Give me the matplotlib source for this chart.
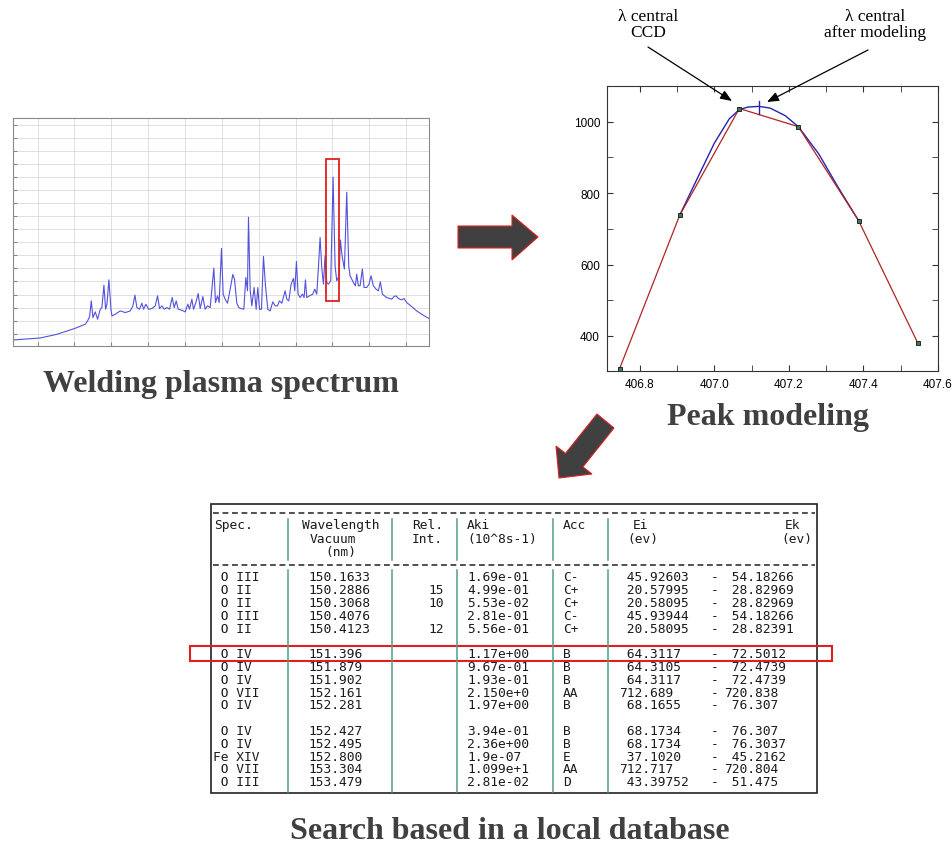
import numpy as np
import matplotlib.pyplot as plt
from matplotlib.patches import Rectangle, Polygon
from matplotlib.ticker import MultipleLocator, NullFormatter

# --- spectrum trace (arbitrary units) ---
spec_x = [38, 120, 170, 222, 255, 262, 268, 273, 278, 285, 292, 300, 305, 311, 316, 320, 326, 332,
          335, 345, 360, 375, 390, 398, 404, 410, 418, 425, 430, 437, 445, 455, 465, 472, 478, 485,
          492, 500, 508, 516, 522, 528, 534, 545, 555, 563, 568, 575, 580, 587, 594, 600, 608, 615,
          622, 630, 641, 646, 652, 657, 664, 669, 675, 682, 690, 698, 703, 710, 716, 722, 731, 737,
          742, 745, 750, 755, 762, 768, 773, 778, 784, 790, 796, 803, 810, 818, 825, 832, 838, 845,
          855, 860, 866, 873, 880, 884, 889, 894, 900, 907, 912, 916, 920, 928, 938, 944, 950, 956,
          960, 965, 970, 975, 980, 985, 992, 999, 1005, 1010, 1017, 1021, 1026, 1033, 1040, 1046,
          1050, 1060, 1066, 1070, 1075, 1080, 1087, 1092, 1100, 1107, 1113, 1120, 1128, 1135, 1141,
          1147, 1160, 1175, 1182, 1188, 1195, 1205, 1212, 1220, 1235, 1250, 1265, 1287]
spec_y = [18, 24, 35, 52, 65, 75, 88, 135, 85, 102, 80, 110, 115, 182, 110, 125, 198, 110,
          90, 95, 105, 100, 105, 120, 152, 115, 110, 128, 110, 125, 110, 112, 120, 150, 112, 120,
          110, 115, 110, 145, 115, 135, 110, 107, 102, 125, 110, 140, 110, 130, 157, 112, 148, 110,
          120, 115, 233, 130, 150, 130, 292, 155, 140, 128, 170, 214, 200, 128, 115, 112, 110, 205,
          165, 385, 170, 120, 175, 110, 175, 110, 110, 268, 180, 110, 105, 132, 120, 120, 135, 128,
          165, 140, 135, 185, 202, 165, 253, 155, 145, 155, 145, 198, 145, 150, 155, 170, 155, 252,
          325, 235, 185, 270, 190, 185, 195, 505, 240, 195, 210, 317, 270, 230, 460, 240,
          210, 190, 180, 215, 180, 180, 230, 175, 175, 185, 210, 180, 170, 165, 192,
          155, 145, 140, 148, 150, 142, 138, 142, 130, 118, 105, 95, 82]
# highlighted line in the spectrum
box_x = [977, 1016]
box_y = [135, 560]

# --- peak modeling ---
pix_wl = [406.746, 406.907, 407.067, 407.2255, 407.387, 407.5455]
pix_int = [309, 738, 1037, 986, 723, 381]
fit_wl = [406.907, 406.95, 407.0, 407.04, 407.067, 407.09, 407.12, 407.15, 407.19,
          407.2255, 407.28, 407.33, 407.387]
fit_int = [738, 832, 940, 1008, 1034, 1041, 1043, 1038, 1017, 986, 910, 820, 723]
fit_center = 407.12
fit_center_span = [1021, 1059]

# --- database table ---
elem = ['O', 'O', 'O', 'O', 'O', 'O', 'O', 'O', 'O', 'O', 'O', 'O', 'Fe', 'O', 'O']
ion = ['III', 'II', 'II', 'III', 'II', 'IV', 'IV', 'IV', 'VII', 'IV', 'IV', 'IV', 'XIV', 'VII', 'III']
wavelength = ['150.1633', '150.2886', '150.3068', '150.4076', '150.4123',
              '151.396', '151.879', '151.902', '152.161', '152.281',
              '152.427', '152.495', '152.800', '153.304', '153.479']
rel_int = ['', '15', '10', '', '12', '', '', '', '', '', '', '', '', '', '']
aki = ['1.69e-01', '4.99e-01', '5.53e-02', '2.81e-01', '5.56e-01',
       '1.17e+00', '9.67e-01', '1.93e-01', '2.150e+0', '1.97e+00',
       '3.94e-01', '2.36e+00', '1.9e-07', '1.099e+1', '2.81e-02']
acc = ['C-', 'C+', 'C+', 'C-', 'C+', 'B', 'B', 'B', 'AA', 'B', 'B', 'B', 'E', 'AA', 'D']
ei = ['45.92603', '20.57995', '20.58095', '45.93944', '20.58095',
      '64.3117', '64.3105', '64.3117', '712.689', '68.1655',
      '68.1734', '68.1734', '37.1020', '712.717', '43.39752']
ek = ['54.18266', '28.82969', '28.82969', '54.18266', '28.82391',
      '72.5012', '72.4739', '72.4739', '720.838', '76.307',
      '76.307', '76.3037', '45.2162', '720.804', '51.475']
highlight_row = 5

W, H = 953, 845
fig = plt.figure(figsize=(W / 100, H / 100), dpi=100, facecolor='white')


def px_box(left, top, right, bottom):
    return [left / W, 1 - bottom / H, (right - left) / W, (bottom - top) / H]


# spectrum panel
ax1 = fig.add_axes(px_box(13, 119, 429, 347))
ax1.plot(spec_x, spec_y, color='#5252dc', lw=0.8)
ax1.add_patch(Rectangle((box_x[0], box_y[0]), box_x[1] - box_x[0], box_y[1] - box_y[0],
                        fill=False, edgecolor='#e02020', lw=1.3, zorder=5))
ax1.set_xlim(38, 1287)
ax1.set_ylim(0, 682)
ax1.xaxis.set_major_locator(MultipleLocator(110.6, offset=112))
ax1.yaxis.set_major_locator(MultipleLocator(39, offset=37))
ax1.xaxis.set_major_formatter(NullFormatter())
ax1.yaxis.set_major_formatter(NullFormatter())
ax1.grid(True, color='#dadada', lw=0.6)
ax1.tick_params(direction='in', length=3, color='#888888')
for sp in ax1.spines.values():
    sp.set_color('#8a8a8a')
    sp.set_linewidth(0.8)

# peak modeling panel
ax2 = fig.add_axes(px_box(607, 87, 938, 372))
ax2.plot(fit_wl, fit_int, color='#2424b0', lw=1.0)
ax2.plot(pix_wl, pix_int, color='#b02424', lw=0.9)
ax2.plot(pix_wl, pix_int, ls='none', marker='s', ms=3.0, mfc='#3b7a5a', mec='#111111', mew=0.6)
ax2.plot([fit_center, fit_center], fit_center_span, color='#2424b0', lw=1.0)
ax2.set_xlim(406.712, 407.6)
ax2.set_ylim(302, 1100)
ax2.xaxis.set_major_locator(MultipleLocator(0.2))
ax2.xaxis.set_minor_locator(MultipleLocator(0.1))
ax2.yaxis.set_major_locator(MultipleLocator(200))
ax2.yaxis.set_minor_locator(MultipleLocator(100))
ax2.xaxis.set_major_formatter(plt.FormatStrFormatter('%.1f'))
ax2.tick_params(which='both', direction='in', top=True, right=True, color='#333333')
ax2.tick_params(which='major', length=4, labelsize=8.5, pad=5)
ax2.tick_params(which='minor', length=4)
for lab in ax2.get_xticklabels() + ax2.get_yticklabels():
    lab.set_family('Liberation Sans')
for sp in ax2.spines.values():
    sp.set_color('#333333')
    sp.set_linewidth(0.8)

# overlay in pixel coordinates for titles, arrows and the table
ov = fig.add_axes([0, 0, 1, 1], facecolor='none')
ov.set_xlim(0, W)
ov.set_ylim(H, 0)
ov.axis('off')

title_kw = dict(family='Liberation Serif', weight='bold', color='#404040', ha='center', va='baseline')
ov.text(221, 392, 'Welding plasma spectrum', fontsize=23, **title_kw)
ov.text(768, 425, 'Peak modeling', fontsize=23, **title_kw)
ov.text(510, 839, 'Search based in a local database', fontsize=23, **title_kw)

# callouts on the peak
note_kw = dict(family='Liberation Serif', fontsize=12.5, ha='center', va='center', linespacing=0.95)
arrow_kw = dict(arrowstyle='-|>,head_length=0.7,head_width=0.28', color='black', lw=0.9,
                shrinkA=0, shrinkB=0)
ov.text(648, 25, 'λ central\nCCD', **note_kw)
ov.text(875, 25, 'λ central\nafter modeling', **note_kw)
ov.annotate('', xy=(732, 102), xytext=(648, 48), arrowprops=arrow_kw)
ov.annotate('', xy=(767, 103), xytext=(868, 51), arrowprops=arrow_kw)

# block arrows between panels
ov.add_patch(Polygon([(458, 227), (512, 227), (512, 216), (538, 238), (512, 261), (512, 249), (458, 249)],
                     closed=True, facecolor='#404040', edgecolor='#e02020', lw=0.8))
ov.add_patch(Polygon([(597, 415), (565.5, 454.4), (556, 447), (559, 479), (592, 475), (582.9, 467.9), (614, 429)],
                     closed=True, facecolor='#404040', edgecolor='#e02020', lw=0.8))

# table
ov.add_patch(Rectangle((211, 505), 606, 289, fill=False, edgecolor='#222222', lw=1.2))
for yy in [514, 566]:
    ov.plot([213, 815], [yy, yy], color='#333333', lw=1.2, ls=(0, (3.5, 2.2)))
for xx in [288, 392, 457, 553, 608]:
    ov.plot([xx, xx], [520, 561], color='#5a9a8a', lw=1.1)
    ov.plot([xx, xx], [571, 793], color='#5a9a8a', lw=1.1)

mono = dict(family='DejaVu Sans Mono', fontsize=9.3, color='#1a1a1a', va='center')
headers = [(214, 526, 'Spec.'), (302, 526, 'Wavelength'), (310, 540, 'Vacuum'), (325, 553, '(nm)'),
           (412, 526, 'Rel.'), (412, 540, 'Int.'), (467, 526, 'Aki'), (467, 540, '(10^8s-1)'),
           (563, 526, 'Acc'), (633, 526, 'Ei'), (627, 540, '(ev)'), (785, 526, 'Ek'), (781, 540, '(ev)')]
for hx, hy, txt in headers:
    ov.text(hx, hy, txt, ha='left', **mono)

for i in range(len(elem)):
    slot = i + i // 5  # blank line after every five rows
    y = 578 + slot * 12.8
    ov.text(213, y, f'{elem[i]:>2} {ion[i]}', ha='left', **mono)
    ov.text(308, y, wavelength[i], ha='left', **mono)
    ov.text(444, y, rel_int[i], ha='right', **mono)
    ov.text(467, y, aki[i], ha='left', **mono)
    ov.text(563, y, acc[i], ha='left', **mono)
    a, b = ei[i].split('.')
    ov.text(619, y, f'{a:>3}.{b}', ha='left', **mono)
    ov.text(711, y, '-', ha='left', **mono)
    a, b = ek[i].split('.')
    ov.text(724, y, f'{a:>3}.{b}', ha='left', **mono)

hy = 578 + (highlight_row + highlight_row // 5) * 12.8
ov.add_patch(Rectangle((190, hy - 7.5), 642, 15, fill=False, edgecolor='#e02020', lw=1.5))

fig.savefig('out.png', dpi=100, facecolor='white')
